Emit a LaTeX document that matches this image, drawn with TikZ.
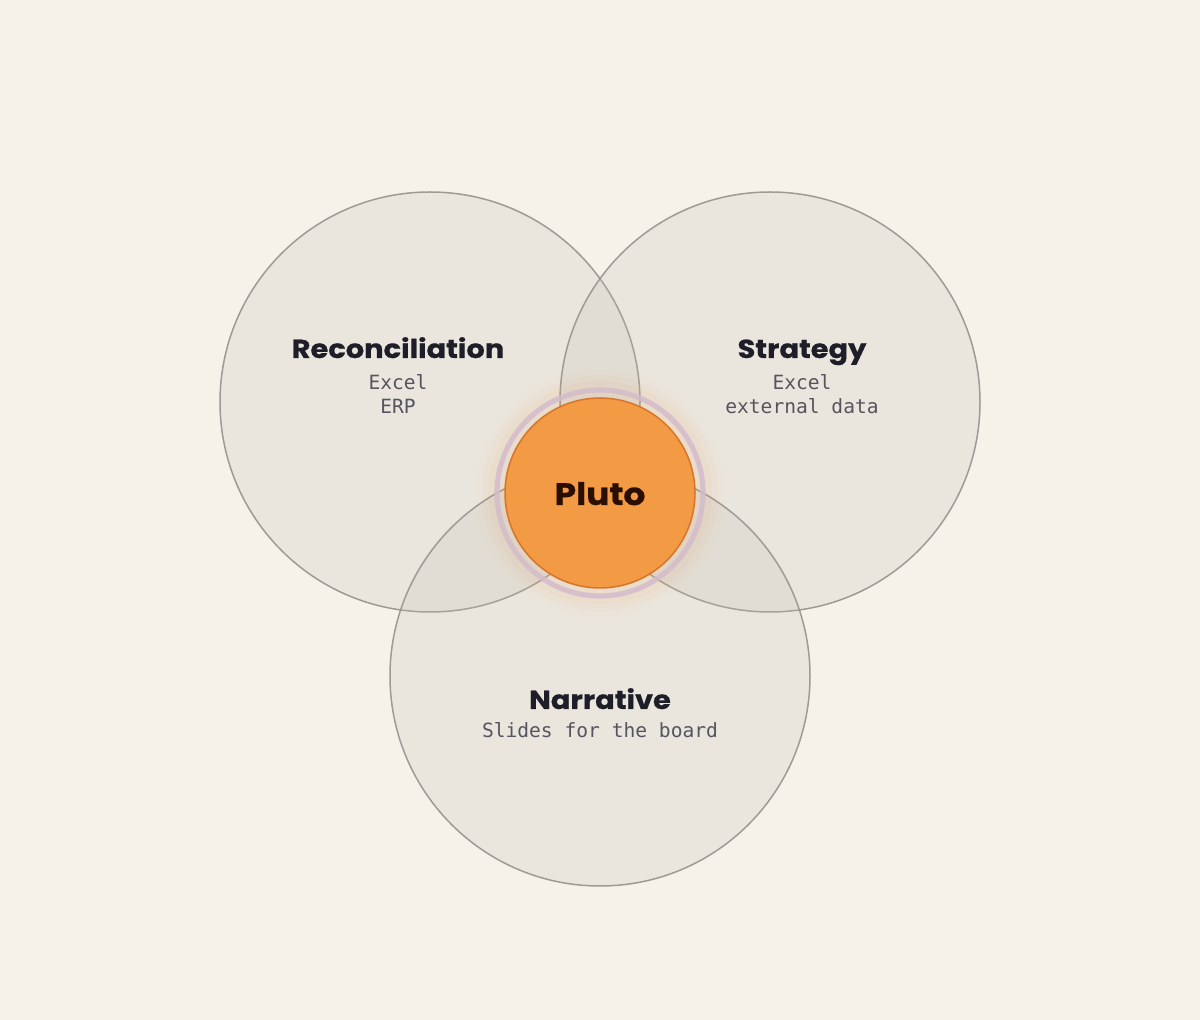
\documentclass[tikz,border=0pt]{standalone}
\usepackage{fontspec}
\setmonofont{DejaVu Sans Mono}
\newfontfamily\headfont{Poppins}[FakeStretch=1.11,FakeBold=0.6]
\usepackage{xcolor}

\definecolor{paper}{HTML}{F6F2EA}
\definecolor{setfill}{HTML}{BEBAB0}
\definecolor{setline}{HTML}{9E9B97}
\definecolor{plutofill}{HTML}{F29A44}
\definecolor{plutoline}{HTML}{D8752A}
\definecolor{halo}{HTML}{D4BCCB}
\definecolor{ink}{HTML}{1E1E28}
\definecolor{subink}{HTML}{55555F}
\definecolor{plutoink}{HTML}{2A0E00}

\tikzset{
  setcircle/.style={circle,minimum size=210pt,inner sep=0pt,draw=setline,line width=0.75pt,fill=setfill,fill opacity=0.2},
  settitle/.style={font=\headfont\bfseries\fontsize{13}{15}\selectfont,text=ink,inner sep=0pt,anchor=base},
  setsub/.style={font=\ttfamily\fontsize{9.8}{12}\selectfont,text=subink,align=center,inner sep=0pt}
}

\begin{document}
\begin{tikzpicture}[x=0.5pt,y=-0.5pt]
            \fill[paper] (0,0) rectangle (1200,1020);
            \useasboundingbox (0,0) rectangle (1200,1020);
            \node (rec) at (430,402) [setcircle] {};
            \node (strat) at (770,402) [setcircle] {};
            \node (narr) at (600,676) [setcircle] {};
            % soft glow behind the core
            \foreach \r/\o in {124/0.025,118/0.035,112/0.05} {
                \fill[plutofill,opacity=\o] (600,493) circle (\r*0.5pt);
            }
            \draw[halo,line width=2.6pt,opacity=0.85] (600,493) circle (51.5pt);
            \node (pluto) at (600,493) [circle,minimum size=95pt,inner sep=0pt,fill=plutofill,draw=plutoline,line width=0.75pt] {};
            \node (plutolabel) at (600,505) [settitle,font=\headfont\bfseries\fontsize{15.5}{18}\selectfont,text=plutoink] {Pluto};
            \node (rectitle) at (398,358) [settitle] {Reconciliation};
            \node (recsub) at (398,394) [setsub] {Excel\\ERP};
            \node (strattitle) at (802,358) [settitle] {Strategy};
            \node (stratsub) at (802,394) [setsub] {Excel\\external data};
            \node (narrtitle) at (600,709) [settitle] {Narrative};
            \node (narrsub) at (600,730) [setsub] {Slides for the board};
        \end{tikzpicture}
\end{document}
